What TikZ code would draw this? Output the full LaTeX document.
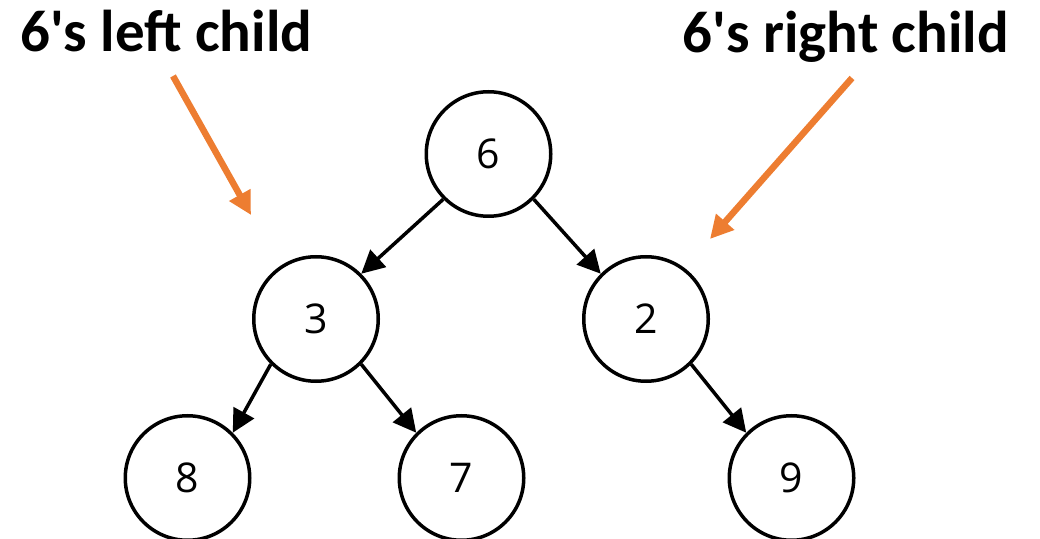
\documentclass[tikz,border=0pt]{standalone}
\usepackage{fontspec}
\setmainfont{Open Sans}
\newfontfamily\labelfont{Carlito}
\usetikzlibrary{arrows.meta}
\definecolor{office orange}{HTML}{ED7D31}
\begin{document}
\begin{tikzpicture}[x=1pt,y=1pt,
  treenode/.style={circle,draw=black,line width=3.5pt,minimum size=124.5pt,inner sep=0pt,font=\fontsize{41}{48}\selectfont},
  edge/.style={line width=3.5pt,-{Triangle[length=23pt,width=23pt]}},
  pointer/.style={draw=office orange,line width=6.5pt,-{Triangle[length=23pt,width=23pt]}},
  caption/.style={font=\labelfont\bfseries\fontsize{59}{70}\selectfont,inner sep=0pt}]
\useasboundingbox (0,0) rectangle (1040,538);
\node[treenode] (n6) at (488.5,384) {6};
\node[treenode] (n3) at (316,219) {3};
\node[treenode] (n2) at (646,219) {2};
\node[treenode] (n8) at (187.5,60) {8};
\node[treenode] (n7) at (461.5,60) {7};
\node[treenode] (n9) at (791.5,60) {9};
\draw[edge] (n6.south west) -- (n3.north east);
\draw[edge] (n6.south east) -- (n2.north west);
\draw[edge] (n3.south west) -- (n8.north east);
\draw[edge] (n3.south east) -- (n7.north west);
\draw[edge] (n2.south east) -- (n9.north west);
\node[caption,anchor=base west] (lc) at (20,486) {6's left child};
\node[caption,anchor=base east] (rc) at (1009,485) {6's right child};
\coordinate (lcs) at (173,462);
\coordinate (lct) at (251,323);
\coordinate (rcs) at (852,460);
\coordinate (rct) at (710,299);
\draw[pointer] (lcs) -- (lct);
\draw[pointer] (rcs) -- (rct);
\end{tikzpicture}
\end{document}
